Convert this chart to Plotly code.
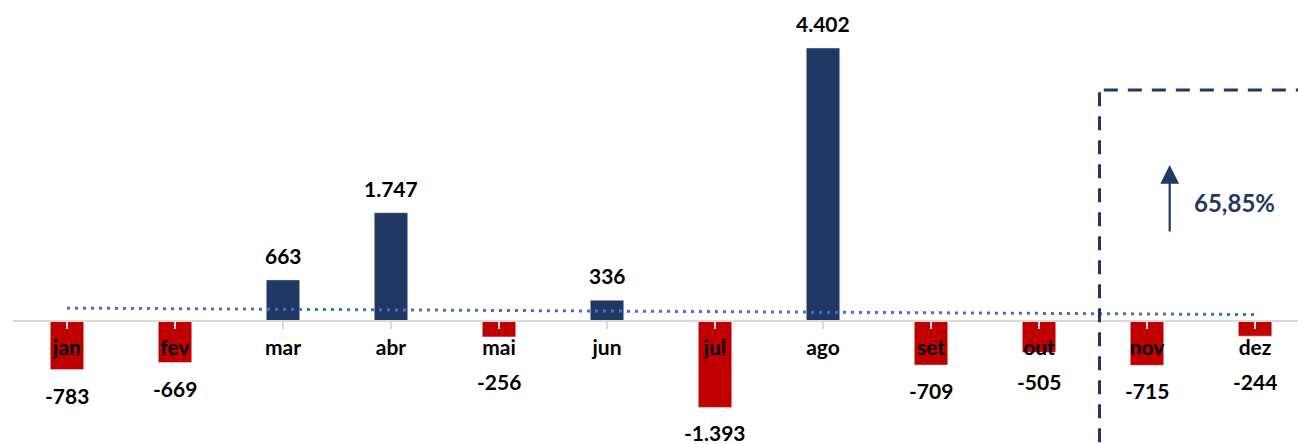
import numpy as np
import plotly.graph_objects as go

months = ["jan", "fev", "mar", "abr", "mai", "jun", "jul", "ago", "set", "out", "nov", "dez"]
values = [-783, -669, 663, 1747, -256, 336, -1393, 4402, -709, -505, -715, -244]
highlight_text = "65,85%"

NAVY = "#1F3864"
RED = "#C00000"
TREND = "#4472C4"
FONT = "Lato"

x_idx = np.arange(len(months))
colors = [NAVY if v >= 0 else RED for v in values]

# linear trend line (same as the excel trendline)
slope, intercept = np.polyfit(x_idx, values, 1)
trend = slope * x_idx + intercept


def fmt(v):
    # portuguese thousands separator
    return f"{v:,}".replace(",", ".")


fig = go.Figure()

fig.add_trace(
    go.Bar(
        x=x_idx,
        y=values,
        width=0.31,
        marker_color=colors,
        hoverinfo="skip",
    )
)

fig.add_trace(
    go.Scatter(
        x=x_idx,
        y=trend,
        mode="lines",
        line=dict(color=TREND, width=3, dash="3px,5px"),
        hoverinfo="skip",
    )
)

# value labels: above positive bars, below negative bars (kept clear of month labels)
annotations = []
for i, v in enumerate(values):
    if v >= 0:
        annotations.append(dict(x=i, y=v, text=fmt(v), yshift=25))
    else:
        annotations.append(dict(x=i, y=min(v, -565), text=fmt(v), yshift=-25))
for a in annotations:
    a.update(
        xref="x", yref="y", showarrow=False, yanchor="middle", height=20,
        font=dict(family=FONT, size=21, color="black", weight="bold"),
    )

# arrow and growth text inside the dashed box
annotations.append(
    dict(
        x=10.21, y=2516, xref="x", yref="y", ax=0, ay=68, text="",
        showarrow=True, arrowhead=2, arrowsize=1.7, arrowwidth=2.2, arrowcolor=NAVY,
    )
)
annotations.append(
    dict(
        x=10.81, y=1903, xref="x", yref="y", text=highlight_text, showarrow=False,
        font=dict(family=FONT, size=24, color=NAVY, weight="bold"),
    )
)

box_x = 9.56
box_top = 3725
fig.update_layout(
    shapes=[
        dict(type="line", xref="x", yref="paper", x0=box_x, x1=box_x, y0=-0.05,
             y1=(box_top + 1983) / (5176 + 1983),
             line=dict(color=NAVY, width=3, dash="14px,10px")),
        dict(type="line", xref="x", yref="y", x0=box_x + 0.04, x1=11.6, y0=box_top, y1=box_top,
             line=dict(color=NAVY, width=3, dash="14px,10px")),
    ],
    annotations=annotations,
)

fig.update_layout(
    width=1298,
    height=444,
    margin={"t": 0, "l": 13, "b": 0, "r": 0},
    paper_bgcolor="white",
    plot_bgcolor="white",
    showlegend=False,
    font=dict(family=FONT, size=20, color="black"),
    xaxis=dict(
        range=[-0.5, 11.398],
        tickmode="array",
        tickvals=list(x_idx),
        ticktext=months,
        tickfont=dict(family=FONT, size=21, color="black", weight="bold"),
        tickson="boundaries",
        ticks="outside",
        ticklen=7,
        tickwidth=1.5,
        tickcolor="#D9D9D9",
        showline=True,
        linecolor="#D9D9D9",
        linewidth=1.5,
        showgrid=False,
        zeroline=False,
        anchor="free",
        position=1983 / (5176 + 1983),
        ticklabelstandoff=1,
    ),
    yaxis=dict(range=[-1983, 5176], visible=False, showgrid=False, zeroline=False),
)

# drop the default page margin so the figure sits at the window's corner
fig.write_html(
    "out.html",
    config={"displayModeBar": False},
    post_script="document.body.style.margin='0';",
)
